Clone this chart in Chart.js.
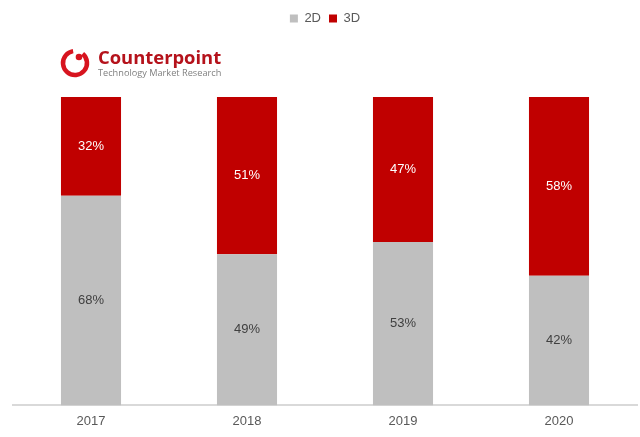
<!DOCTYPE html>
<html>
<head>
<meta charset="utf-8">
<script src="https://cdn.jsdelivr.net/npm/chart.js@4/dist/chart.umd.min.js"></script>
<style>
  html, body { margin: 0; padding: 0; background: #fff; }
  #wrap { width: 640px; height: 437px; position: relative; }
</style>
</head>
<body>
<div id="wrap"><canvas id="chart"></canvas></div>
<script>
const years = ['2017', '2018', '2019', '2020'];
const share2D = [68, 49, 53, 42];
const share3D = [32, 51, 47, 58];

const colors = { gray: '#BFBFBF', red: '#C00000', text: '#595959', axis: '#D9D9D9' };

// extra room under the legend for the logo
const legendGap = {
    id: 'legendGap',
    beforeInit(chart) {
        const fit = chart.legend.fit;
        chart.legend.fit = function () {
            fit.bind(chart.legend)();
            this.height += 62;
        };
    }
};

// segment labels in the middle of each bar piece
const segLabels = {
    id: 'segLabels',
    afterDatasetsDraw(chart) {
        const ctx = chart.ctx;
        ctx.save();
        ctx.font = '13px Arial, "Liberation Sans", sans-serif';
        ctx.textAlign = 'center';
        ctx.textBaseline = 'middle';
        chart.data.datasets.forEach((ds, i) => {
            chart.getDatasetMeta(i).data.forEach((bar, j) => {
                const p = bar.getProps(['x', 'y', 'base'], true);
                ctx.fillStyle = i === 0 ? '#404040' : '#FFFFFF';
                ctx.fillText(ds.data[j] + '%', p.x, (p.y + p.base) / 2);
            });
        });
        ctx.restore();
    }
};

// Counterpoint logo, top-left
const logo = {
    id: 'logo',
    afterDraw(chart) {
        const ctx = chart.ctx;
        ctx.save();
        ctx.strokeStyle = '#D7141F';
        ctx.lineWidth = 4.5;
        ctx.beginPath();
        ctx.arc(75, 63, 12, Math.PI * 1.72, Math.PI * 1.45);
        ctx.stroke();
        ctx.fillStyle = '#D7141F';
        ctx.beginPath();
        ctx.arc(79, 57, 3.3, 0, Math.PI * 2);
        ctx.fill();
        ctx.fillStyle = '#B5121B';
        ctx.font = 'bold 18.4px "Open Sans", sans-serif';
        ctx.textBaseline = 'alphabetic';
        ctx.fillText('Counterpoint', 98, 64);
        ctx.fillStyle = '#808080';
        ctx.font = '9.2px "Open Sans", sans-serif';
        ctx.fillText('Technology Market Research', 98, 76);
        ctx.restore();
    }
};

new Chart(document.getElementById('chart'), {
    type: 'bar',
    data: {
        labels: years,
        datasets: [
            { label: '2D', data: share2D, backgroundColor: colors.gray },
            { label: '3D', data: share3D, backgroundColor: colors.red }
        ]
    },
    options: {
        responsive: true,
        maintainAspectRatio: false,
        animation: false,
        datasets: { bar: { barPercentage: 0.385, categoryPercentage: 1.0 } },
        layout: { padding: { left: 13, right: 3, top: 4, bottom: 8 } },
        plugins: {
            legend: {
                display: true,
                position: 'top',
                labels: {
                    boxWidth: 8, boxHeight: 8, padding: 8,
                    color: colors.text,
                    font: { size: 13, family: 'Arial, "Liberation Sans", sans-serif' }
                }
            },
            tooltip: { enabled: false }
        },
        scales: {
            x: {
                stacked: true,
                grid: { display: false },
                border: { color: colors.axis, width: 2 },
                ticks: { color: colors.text, padding: 0, font: { size: 13, family: 'Arial, "Liberation Sans", sans-serif' } }
            },
            y: {
                stacked: true,
                display: false,
                min: 0, max: 100
            }
        }
    },
    plugins: [legendGap, segLabels, logo]
});
</script>
</body>
</html>
